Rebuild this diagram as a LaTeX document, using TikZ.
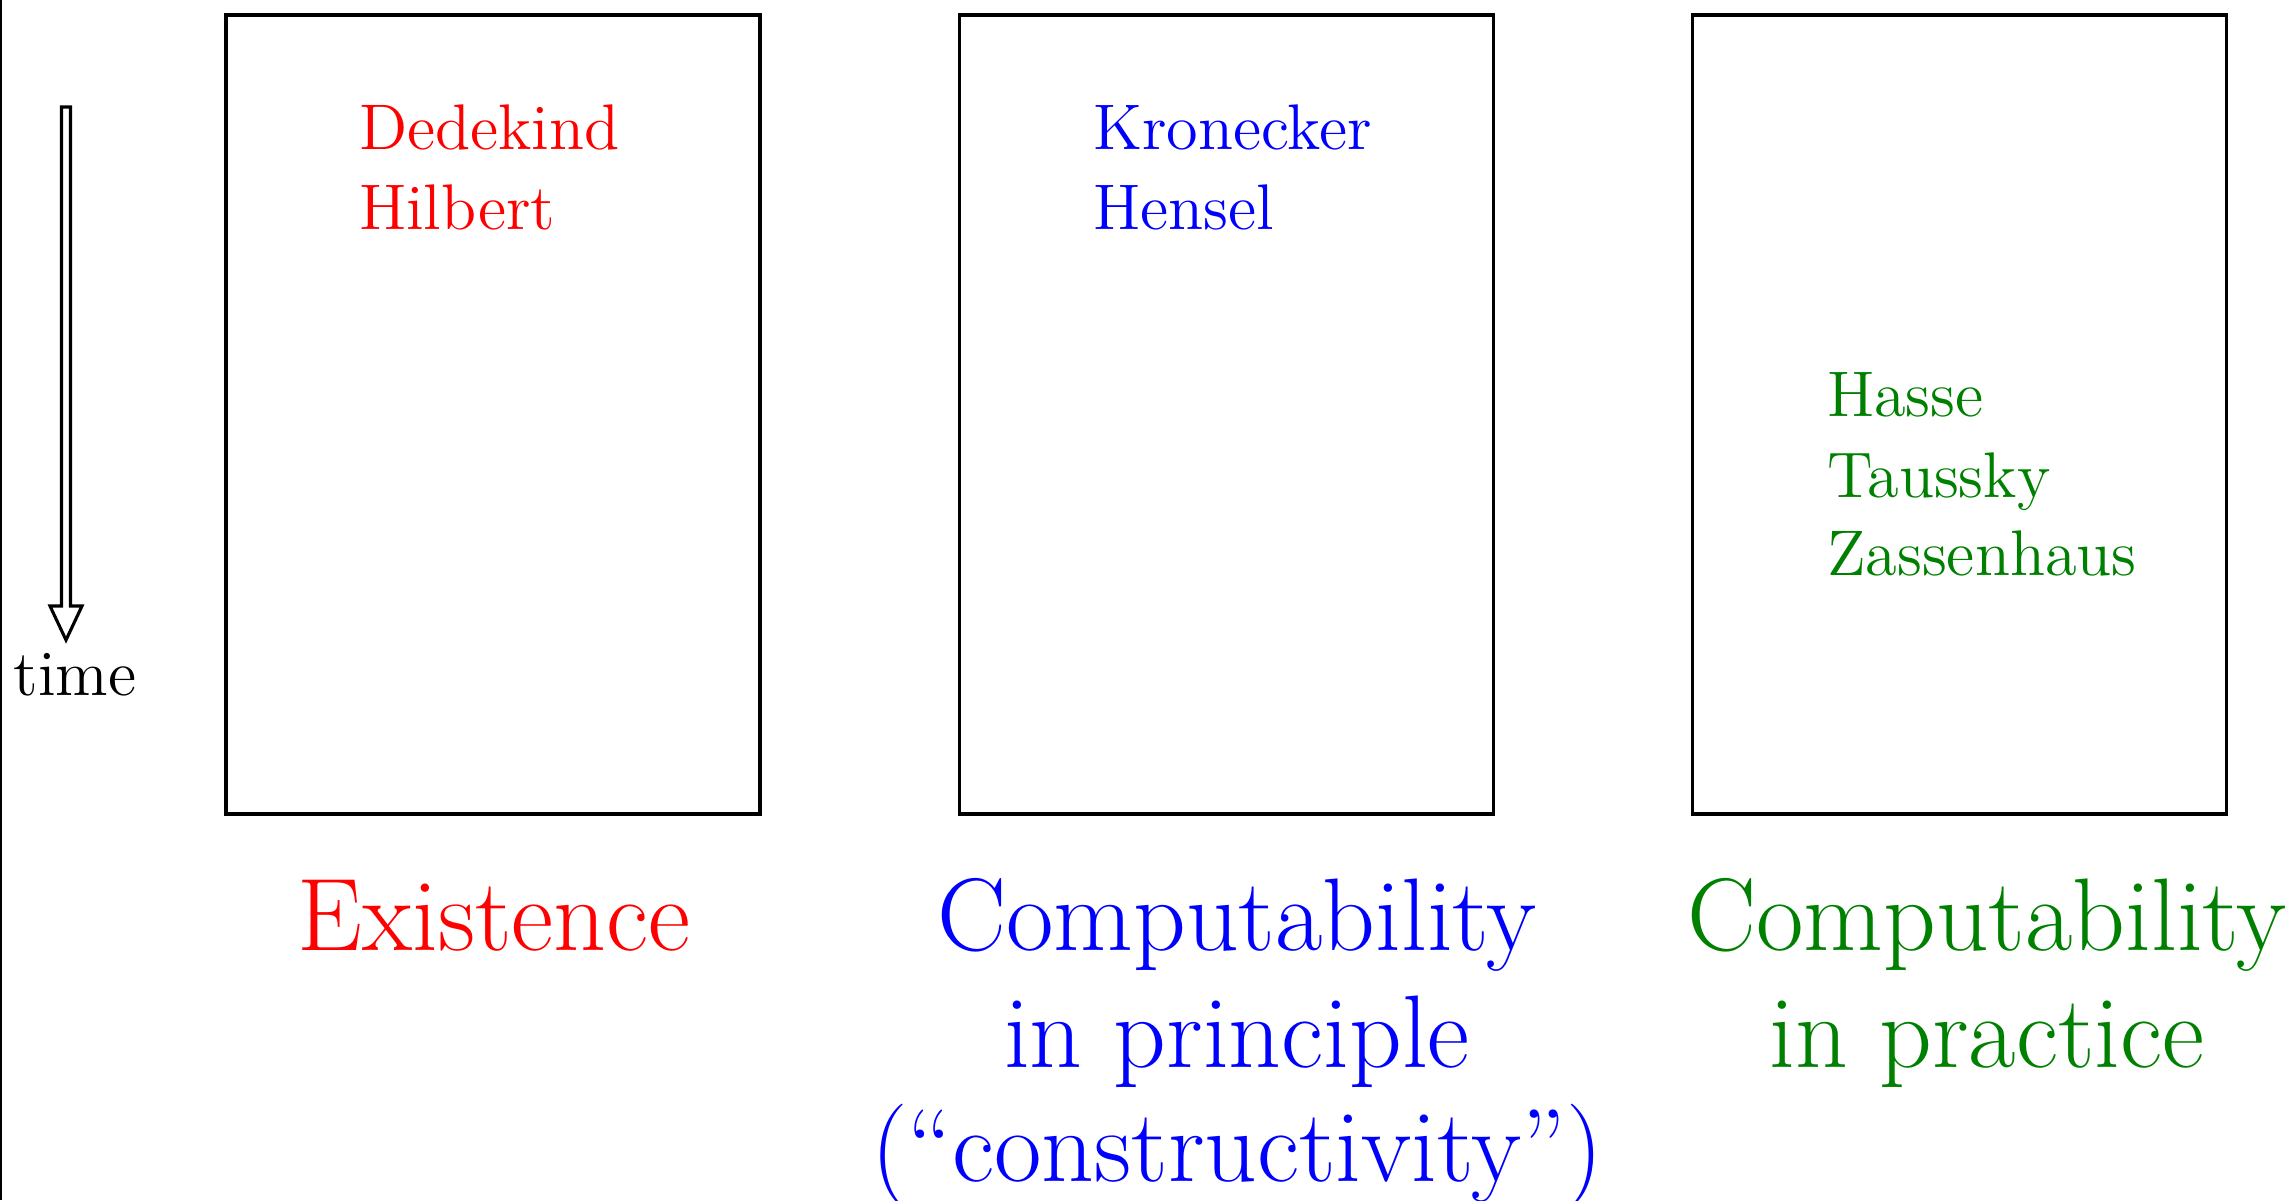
\documentclass[tikz,border=0pt]{standalone}
\usetikzlibrary{calc}
\definecolor{dgreen}{rgb}{0,0.5,0}
\begin{document}
\begin{tikzpicture}[x=0.19231pt,y=-0.19231pt,
  boxstyle/.style={draw=black,line width=0.7pt,minimum width=102.7pt,minimum height=153.65pt,inner sep=0pt},
  persontext/.style={anchor=base west,inner sep=0pt,font=\fontsize{12.4}{14}\selectfont},
  labeltext/.style={anchor=base,inner sep=0pt,font=\fontsize{19.85}{24}\selectfont},
  arrowoutline/.style={draw=black,line width=0.6pt,line join=miter}]
\useasboundingbox (0,0) rectangle (2290,1200);
\draw[line width=0.5pt] (1,0) -- (1,1200);
% boxes
\node[boxstyle] (b1) at (493,414.5) {};
\node[boxstyle] (b2) at (1226.5,414.5) {};
\node[boxstyle] (b3) at (1959.5,414.5) {};
% names
\node[persontext,red] (n1) at (358,149) {Dedekind};
\node[persontext,red] (n2) at (358,229) {Hilbert};
\node[persontext,blue] (n3) at (1092,149) {Kronecker};
\node[persontext,blue] (n4) at (1092,229) {Hensel};
\node[persontext,dgreen] (n5) at (1826,416) {Hasse};
\node[persontext,dgreen] (n6) at (1826,497) {Taussky};
\node[persontext,dgreen] (n7) at (1826,575) {Zassenhaus};
% labels
\node[labeltext,red] (l1) at (494,950) {Existence};
\node[labeltext,blue] (l2) at (1237,950) {Computability};
\node[labeltext,blue] (l3) at (1237,1067) {in principle};
\node[labeltext,blue] (l4) at (1237,1181) {(``constructivity'')};
\node[labeltext,dgreen] (l5) at (1987,950) {Computability};
\node[labeltext,dgreen] (l6) at (1987,1067) {in practice};
% time arrow
\coordinate (ts) at (66,107);
\coordinate (tt) at (66,640);
\node[anchor=base,inner sep=0pt,font=\fontsize{12.4}{14}\selectfont] (time) at (75,695) {time};
\draw[arrowoutline] ($(ts)+(-4.5,0)$) -- ($(tt)+(-4.5,-34)$) -- ($(tt)+(-16,-34)$) -- (tt)
  -- ($(tt)+(16,-34)$) -- ($(tt)+(4.5,-34)$) -- ($(ts)+(4.5,0)$) -- cycle;
\end{tikzpicture}
\end{document}
